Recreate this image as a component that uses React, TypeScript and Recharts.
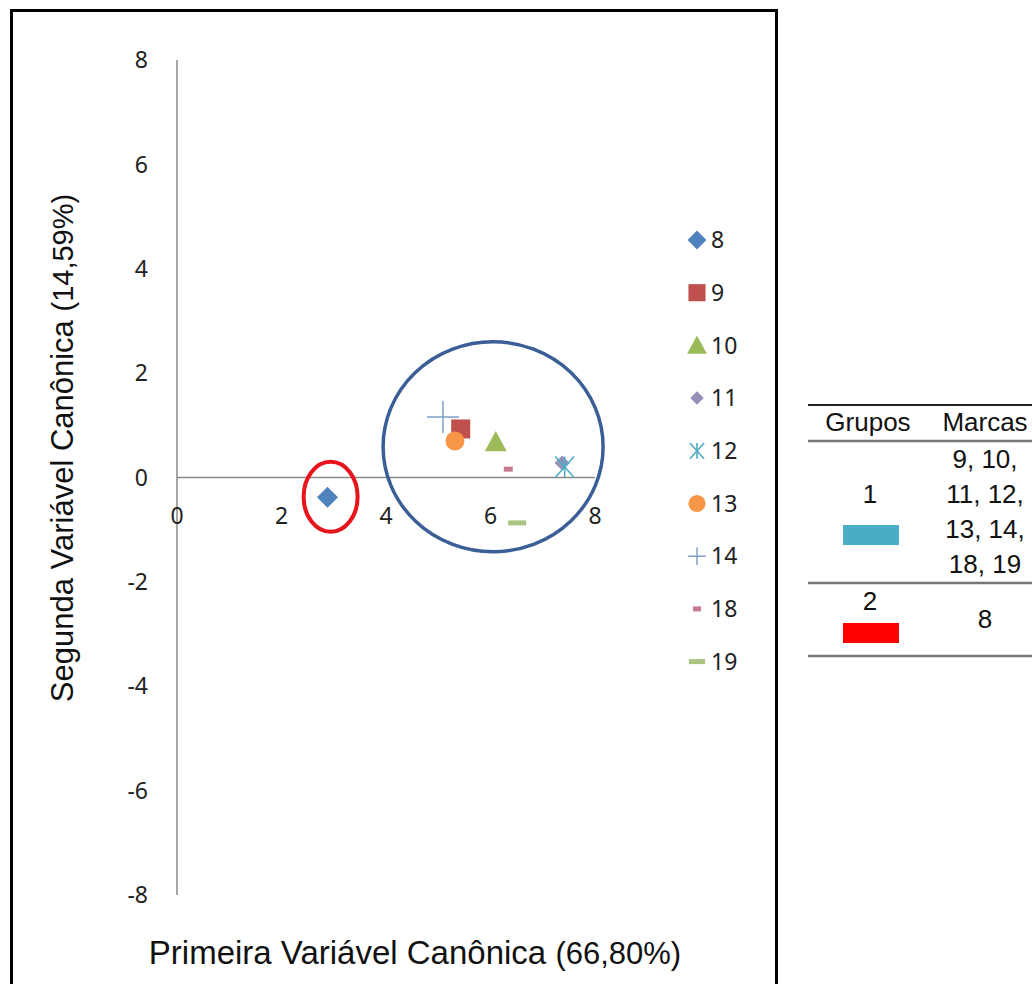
import React from 'react';
import { ScatterChart, Scatter, XAxis, YAxis, ReferenceLine, ReferenceDot } from 'recharts';

// Marcas (séries) e coordenadas nas variáveis canônicas
const marcas = ['8', '9', '10', '11', '12', '13', '14', '18', '19'];
const var1 = [2.88, 5.43, 6.1, 7.37, 7.42, 5.32, 5.09, 6.34, 6.51];
const var2 = [-0.38, 0.93, 0.68, 0.28, 0.2, 0.7, 1.16, 0.16, -0.87];
const cores = ['#4F81BD', '#C0504D', '#9BBB59', '#9690B8', '#4BACC6', '#F79646', '#7F9FC9', '#C87B8F', '#A9C47F'];
const formas = ['diamond', 'square', 'triangle', 'diamondSmall', 'asterisk', 'circle', 'plus', 'dashSmall', 'dash'];

const yTicks = [-8, -6, -4, -2, 0, 2, 4, 6, 8];
const xTicks = [0, 2, 4, 6, 8];

// agrupamentos (centro em unidades dos eixos)
const gruposCentroX = [2.94, 6.05];
const gruposCentroY = [-0.37, 0.59];
const gruposCor = ['#E8141B', '#3A5E96'];

// tabela de grupos
const grupos = ['1', '2'];
const marcasGrupo = [['9, 10,', '11, 12,', '13, 14,', '18, 19'], ['8']];
const coresGrupo = ['#4BACC6', '#FF0000'];

const W = 770;
const H = 984;

const Marker = ({ kind, cx, cy, color, s = 1 }: any) => {
  switch (kind) {
    case 'diamond': {
      const r = 10.5 * s;
      return <polygon points={`${cx},${cy - r} ${cx + r},${cy} ${cx},${cy + r} ${cx - r},${cy}`} fill={color} />;
    }
    case 'diamondSmall': {
      const r = 7.5 * s;
      return <polygon points={`${cx},${cy - r} ${cx + r},${cy} ${cx},${cy + r} ${cx - r},${cy}`} fill={color} />;
    }
    case 'square': {
      const r = 9.5 * s;
      return <rect x={cx - r} y={cy - r} width={2 * r} height={2 * r} fill={color} />;
    }
    case 'triangle': {
      const r = 11 * s;
      return <polygon points={`${cx},${cy - r} ${cx + r},${cy + r * 0.85} ${cx - r},${cy + r * 0.85}`} fill={color} />;
    }
    case 'circle':
      return <circle cx={cx} cy={cy} r={9.5 * s} fill={color} />;
    case 'plus': {
      const r = 16 * s;
      return (
        <g stroke={color} strokeWidth={1.5}>
          <line x1={cx - r} y1={cy} x2={cx + r} y2={cy} />
          <line x1={cx} y1={cy - r} x2={cx} y2={cy + r} />
        </g>
      );
    }
    case 'asterisk': {
      const r = 10.5 * s;
      return (
        <g stroke={color} strokeWidth={1.6}>
          <line x1={cx - r * 0.9} y1={cy - r} x2={cx + r * 0.9} y2={cy + r} />
          <line x1={cx - r * 0.9} y1={cy + r} x2={cx + r * 0.9} y2={cy - r} />
          <line x1={cx} y1={cy - r} x2={cx} y2={cy + r} />
        </g>
      );
    }
    case 'dashSmall':
      return <rect x={cx - 4.5 * s} y={cy - 2.5} width={9 * s} height={5} fill={color} />;
    case 'dash':
      return <rect x={cx - 9 * s} y={cy - 2.5} width={18 * s} height={5} fill={color} />;
    default:
      return null;
  }
};

const XTick = ({ x, payload }: any) => (
  <text x={x} y={516} dy="0.35em" textAnchor="middle" fontSize={23} fill="#222" fontFamily="Noto Sans">
    {payload.value}
  </text>
);

export default function App() {
  return (
    <div style={{ position: 'relative', width: 1032, height: 984, background: '#fff', overflow: 'hidden' }}>
      <style>{`body{margin:0}`}</style>
      <div
        style={{
          position: 'absolute', left: 10, top: 9, width: 768, height: 1000,
          border: '3px solid #000', boxSizing: 'border-box',
        }}
      />
      <div style={{ position: 'absolute', left: 0, top: 0 }}>
        <ScatterChart width={W} height={H} margin={{ top: 60, right: 175, bottom: 59, left: 117 }}>
          <XAxis
            type="number"
            dataKey="x"
            domain={[0, 8]}
            ticks={xTicks}
            axisLine={false}
            tickLine={false}
            height={30}
            tick={<XTick />}
          />
          <YAxis
            type="number"
            dataKey="y"
            domain={[-8, 8]}
            ticks={yTicks}
            axisLine={false}
            tickLine={false}
            tickSize={0}
            tickMargin={29}
            width={60}
            tick={{ fontSize: 23, fill: '#222', fontFamily: 'Noto Sans' }}
          />
          <ReferenceLine y={0} stroke="#8A8A8A" strokeWidth={1.5} />
          <ReferenceLine x={0} stroke="#8A8A8A" strokeWidth={1.5} />
          <ReferenceDot
            x={gruposCentroX[0]}
            y={gruposCentroY[0]}
            r={1}
            shape={(p: any) => (
              <ellipse cx={p.cx} cy={p.cy} rx={27} ry={35} fill="none" stroke={gruposCor[0]} strokeWidth={4} />
            )}
          />
          <ReferenceDot
            x={gruposCentroX[1]}
            y={gruposCentroY[1]}
            r={1}
            shape={(p: any) => (
              <ellipse cx={p.cx} cy={p.cy} rx={110} ry={105} fill="none" stroke={gruposCor[1]} strokeWidth={3.5} />
            )}
          />
          {marcas.map((m, i) => (
            <Scatter
              key={m}
              name={m}
              data={[{ x: var1[i], y: var2[i] }]}
              fill={cores[i]}
              isAnimationActive={false}
              shape={(p: any) => <Marker kind={formas[i]} cx={p.cx} cy={p.cy} color={cores[i]} />}
            />
          ))}
        </ScatterChart>
      </div>

      <svg style={{ position: 'absolute', left: 0, top: 0 }} width={1032} height={984}>
        {/* legenda */}
        {marcas.map((m, i) => {
          const y = 240 + i * 52.7;
          const s = formas[i] === 'plus' ? 0.55 : formas[i] === 'asterisk' ? 0.75 : 0.9;
          return (
            <g key={m}>
              <Marker kind={formas[i]} cx={697} cy={y} color={cores[i]} s={s} />
              <text x={711} y={y} dy="0.36em" fontSize={23} fill="#222" fontFamily="Noto Sans">{m}</text>
            </g>
          );
        })}

        {/* títulos dos eixos */}
        <text
          transform="translate(73,448) rotate(-90)"
          textAnchor="middle"
          fontFamily="Liberation Sans"
          fontSize={31}
          fill="#111"
        >
          Segunda Variável Canônica <tspan fontSize={29}>(14,59%)</tspan>
        </text>
        <text x={415} y={964} textAnchor="middle" fontFamily="Liberation Sans" fontSize={33} fill="#111">
          Primeira Variável Canônica <tspan fontSize={31}>(66,80%)</tspan>
        </text>

        {/* tabela de grupos */}
        <g fontFamily="Liberation Sans" fontSize={26} fill="#111" textAnchor="middle">
          <line x1={808} x2={1032} y1={405} y2={405} stroke="#222" strokeWidth={2} />
          <line x1={808} x2={1032} y1={441} y2={441} stroke="#777" strokeWidth={2.5} />
          <line x1={808} x2={1032} y1={583} y2={583} stroke="#777" strokeWidth={2.5} />
          <line x1={808} x2={1032} y1={656} y2={656} stroke="#777" strokeWidth={2.5} />
          <text x={868} y={431}>Grupos</text>
          <text x={985} y={431}>Marcas</text>
          <text x={870} y={503}>{grupos[0]}</text>
          <rect x={843} y={525} width={56} height={20} fill={coresGrupo[0]} stroke="none" />
          {marcasGrupo[0].map((t, k) => (
            <text key={t} x={985} y={468 + k * 35}>{t}</text>
          ))}
          <text x={870} y={610}>{grupos[1]}</text>
          <rect x={843} y={623} width={56} height={20} fill={coresGrupo[1]} stroke="none" />
          <text x={985} y={628}>{marcasGrupo[1][0]}</text>
        </g>
      </svg>
    </div>
  );
}
